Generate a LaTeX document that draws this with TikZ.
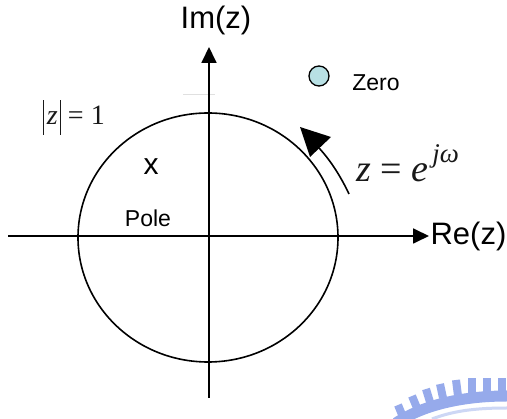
\documentclass[tikz,border=0pt]{standalone}
\usepackage{fontspec}
\setmainfont{Liberation Sans}
\usepackage{amsmath}
\usetikzlibrary{arrows.meta}
\newfontfamily\mathserif{Liberation Serif}
\definecolor{zerofill}{RGB}{184,224,228}
\definecolor{wmblue}{RGB}{150,170,235}
\definecolor{wmpale}{RGB}{205,215,245}
\tikzset{
  axisline/.style={line width=1.8pt,-{Triangle[length=16pt,width=15pt]}},
  curveline/.style={line width=1.6pt},
  lab/.style={inner sep=0pt,anchor=center,text=black},
  mathlab/.style={inner sep=0pt,anchor=base west,text=black!90}
}
\begin{document}
\begin{tikzpicture}[x=1pt,y=-1pt]
\useasboundingbox (0,0) rectangle (507,419);
\fill[white] (0,0) rectangle (507,419);
% watermark
\begin{scope}
\clip (0,0) rectangle (507,419);
\draw[wmpale,line width=3pt] (432,419) .. controls (455,410) and (480,408) .. (507,408);
\draw[wmblue,line width=11pt] (396,423) .. controls (425,404) and (465,396) .. (507,396);
\foreach \x/\y/\X/\Y in {403/417/398/405,417/408/412/396,430/402/426/389,443/398/440/384,458/396/456/380,472/394/472/378,487/394/487/378,502/394/502/378}
  \draw[wmblue,line width=8pt] (\x,\y) -- (\X,\Y);
\end{scope}
\coordinate (xl) at (8,236);
\coordinate (xr) at (429,236);
\coordinate (yb) at (209,398);
\coordinate (yt) at (209,47);
\coordinate (c) at (208,237.5);
\coordinate (fa) at (183,95);
\coordinate (fb) at (215,95);
\draw[black!12,line width=1pt] (fa) -- (fb);
\draw[axisline] (xl) -- (xr);
\draw[axisline] (yb) -- (yt);
\draw[curveline] (c) ellipse [x radius=130, y radius=124.5];
% motion arc and arrow
\coordinate (as) at (349,194);
\coordinate (ae) at (319,148);
\draw[curveline] (as) .. controls (341,177) and (331,161) .. (ae);
\fill (300,127) -- (331,137) -- (310,157) -- cycle;
% zero
\node[circle,draw=black,fill=zerofill,line width=1.3pt,minimum size=20pt,inner sep=0pt] (zero) at (319,76) {};
\node[lab,font=\fontsize{23}{23}\selectfont] (zl) at (376,83) {Zero};
\node[lab,font=\fontsize{31}{31}\selectfont] (im) at (216,20) {Im(z)};
\node[lab,font=\fontsize{31}{31}\selectfont] (re) at (468.5,236) {Re(z)};
\node[lab,font=\fontsize{30}{30}\selectfont] (x) at (151,167) {x};
\node[lab,font=\fontsize{23}{23}\selectfont] (pole) at (148,218) {Pole};
\node[mathlab,font=\fontsize{28}{28}\selectfont\mathserif] (unit) at (43,125) {\rule[-10pt]{0.7pt}{35pt}\kern3pt\textit{z}\kern2.5pt\rule[-10pt]{0.7pt}{35pt}\kern7pt=\kern7pt 1};
\node[mathlab,font=\fontsize{38}{38}\selectfont\mathserif] (eq) at (356,182) {\textit{z} = \textit{e}\kern4pt\raisebox{19pt}{\fontsize{27}{27}\selectfont\textit{jω}}};
\end{tikzpicture}
\end{document}
